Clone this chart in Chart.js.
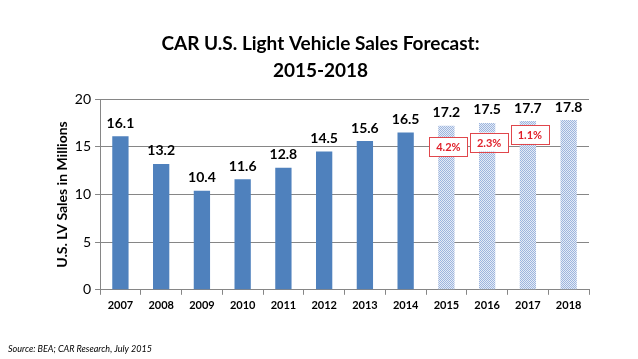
<!DOCTYPE html>
<html>
<head>
<meta charset="utf-8">
<script src="https://cdn.jsdelivr.net/npm/chart.js@4"></script>
<style>
  html, body { margin:0; padding:0; background:#fff; }
  #wrap { position:relative; width:638px; height:359px; }
</style>
</head>
<body>
<div id="wrap"><canvas id="chart" width="638" height="359"></canvas></div>
<script>
var years = ['2007','2008','2009','2010','2011','2012','2013','2014','2015','2016','2017','2018'];
var sales = [16.1, 13.2, 10.4, 11.6, 12.8, 14.5, 15.6, 16.5, 17.2, 17.5, 17.7, 17.8];
var forecast = [false,false,false,false,false,false,false,false,true,true,true,true];
var growth = ['4.2%', '2.3%', '1.1%'];
var growthAt = ['2015', '2016', '2017'];
var growthY = [15.0, 15.5, 16.3];

// dotted pattern for forecast bars
function makePattern(){
    var c = document.createElement('canvas');
    c.width = 2; c.height = 2;
    var g = c.getContext('2d');
    g.fillStyle = '#e4ebf6';
    g.fillRect(0,0,2,2);
    g.fillStyle = '#9db5de';
    g.fillRect(0,0,1,1);
    g.fillRect(1,1,1,1);
    return g.createPattern(c, 'repeat');
}
var pat = makePattern();
var colors = [];
for(var i=0;i<sales.length;i++){
    colors.push(forecast[i] ? pat : '#4f81bd');
}

var labelsPlugin = {
    id: 'extras',
    afterDatasetsDraw: function(chart){
        var ctx = chart.ctx;
        var meta = chart.getDatasetMeta(0);
        ctx.save();
        ctx.font = 'bold 14px Lato, "Open Sans", sans-serif';
        ctx.fillStyle = '#000';
        ctx.textAlign = 'center';
        ctx.textBaseline = 'middle';
        meta.data.forEach(function(bar, i){
            ctx.fillText(sales[i].toFixed(1), bar.x, bar.y - 13);
        });
        // growth boxes
        var xs = chart.scales.x, ys = chart.scales.y;
        ctx.font = 'bold 11px Lato, "Open Sans", sans-serif';
        for(var k=0;k<growth.length;k++){
            var cx = xs.getPixelForValue(growthAt[k]) + 2;
            var cy = ys.getPixelForValue(growthY[k]);
            var w = 38, h = 19;
            ctx.fillStyle = '#fff';
            ctx.fillRect(cx - w/2, cy - h/2, w, h);
            ctx.strokeStyle = '#e0474c';
            ctx.lineWidth = 1;
            ctx.strokeRect(Math.round(cx - w/2) + 0.5, Math.round(cy - h/2) + 0.5, w, h);
            ctx.fillStyle = '#e0202a';
            ctx.fillText(growth[k], cx, cy + 1);
        }
        // source note
        ctx.font = 'italic 9px Lato, "Open Sans", sans-serif';
        ctx.fillStyle = '#000';
        ctx.textAlign = 'left';
        ctx.fillText('Source: BEA; CAR Research, July 2015', 8, 349);
        ctx.restore();
    }
};

new Chart(document.getElementById('chart'), {
    type: 'bar',
    data: {
        labels: years,
        datasets: [{
            data: sales,
            backgroundColor: colors,
            barPercentage: 0.4,
            categoryPercentage: 1.0
        }]
    },
    options: {
        responsive: false,
        animation: false,
        layout: { padding: { left: 52, right: 49, top: 0, bottom: 43 } },
        plugins: {
            legend: { display: false },
            tooltip: { enabled: false },
            title: {
                display: true,
                text: ['CAR U.S. Light Vehicle Sales Forecast:', '2015-2018'],
                color: '#000',
                font: { family: 'Lato, "Open Sans", sans-serif', size: 19, weight: 'bold', lineHeight: 1.45 },
                padding: { top: 30, bottom: 14 }
            }
        },
        scales: {
            x: {
                grid: { display: true, drawOnChartArea: false, offset: true, color: '#868686', tickLength: 5 },
                border: { color: '#868686' },
                ticks: { color: '#000', font: { family: 'Lato, "Open Sans", sans-serif', size: 11, weight: 'bold' }, padding: 4 }
            },
            y: {
                min: 0, max: 20,
                ticks: { stepSize: 5, color: '#000', font: { family: 'Lato, "Open Sans", sans-serif', size: 14 }, padding: 4 },
                grid: { color: '#868686', tickLength: 5 },
                border: { color: '#868686' },
                title: {
                    display: true,
                    text: 'U.S. LV Sales in Millions',
                    color: '#000',
                    font: { family: 'Lato, "Open Sans", sans-serif', size: 14, weight: 'bold' },
                    padding: { top: 2, bottom: 0 }
                }
            }
        }
    },
    plugins: [labelsPlugin]
});
</script>
</body>
</html>
